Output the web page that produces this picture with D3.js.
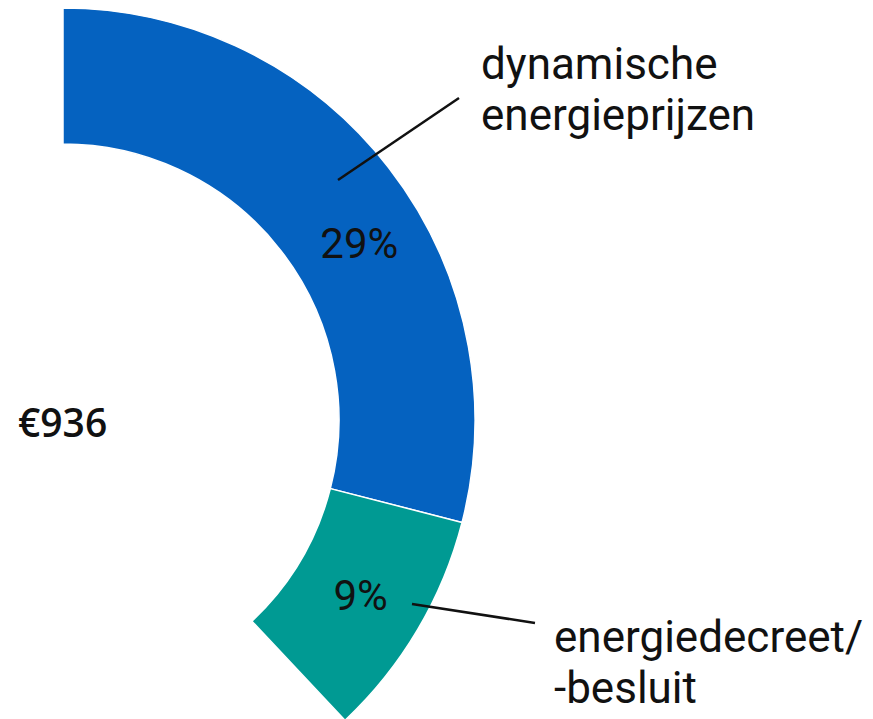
<!DOCTYPE html>
<html>
<head>
<meta charset="utf-8">
<script src="https://cdn.jsdelivr.net/npm/d3@7"></script>
<style>
  body { margin: 0; background: #fff; }
  svg { display: block; }
</style>
</head>
<body>
<svg></svg>
<script>
// data
var categories = ["dynamische energieprijzen", "energiedecreet/-besluit", "overig"];
var shares = [29, 9, 62];
var colors = ["#0562c0", "#009a93", "#ffffff"];
var labelLines = [["dynamische", "energieprijzen"], ["energiedecreet/", "-besluit"]];
var totalLabel = "€936";

var svgWidth = 873;
var svgHeight = 719;
var cx = 63, cy = 420;
var outerR = 412, innerR = 276;

var svg = d3.select("svg")
  .attr("width", svgWidth)
  .attr("height", svgHeight);

var pie = d3.pie().sort(null).value(function(d) { return d; });
var arc = d3.arc().innerRadius(innerR).outerRadius(outerR);
var slices = pie(shares);

var g = svg.append("g").attr("transform", "translate(" + cx + "," + cy + ")");

g.selectAll("path")
  .data(slices.slice(0, 2))
  .enter()
  .append("path")
  .attr("d", arc)
  .attr("fill", function(d, i) { return colors[i]; })
  .attr("stroke", "#fff")
  .attr("stroke-width", 1.5);

// percent labels, placed along the ring
function polar(angleDeg, r) {
  var a = angleDeg * Math.PI / 180;
  return [r * Math.sin(a), -r * Math.cos(a)];
}
var pctAngles = [59.2, 120.4];
g.selectAll("text.pct")
  .data(slices.slice(0, 2))
  .enter()
  .append("text")
  .attr("class", "pct")
  .attr("x", function(d, i) { return polar(pctAngles[i], 345)[0]; })
  .attr("y", function(d, i) { return polar(pctAngles[i], 345)[1] + 15; })
  .attr("text-anchor", "middle")
  .attr("font-family", "Roboto")
  .attr("font-size", 42)
  .attr("fill", "#111")
  .text(function(d) { return d.data + "%"; });

// leader lines
var leaders = [
  [[338, 180], [459, 98]],
  [[412, 604], [535, 623]]
];
svg.selectAll("line.leader")
  .data(leaders)
  .enter()
  .append("line")
  .attr("x1", function(d) { return d[0][0]; })
  .attr("y1", function(d) { return d[0][1]; })
  .attr("x2", function(d) { return d[1][0]; })
  .attr("y2", function(d) { return d[1][1]; })
  .attr("stroke", "#111")
  .attr("stroke-width", 2.5);

// category labels
var labelPos = [[481, 79], [554, 652]];
labelLines.forEach(function(lines, i) {
  var t = svg.append("text")
    .attr("x", labelPos[i][0])
    .attr("y", labelPos[i][1])
    .attr("font-family", "Roboto")
    .attr("font-size", 44)
    .attr("fill", "#111");
  lines.forEach(function(s, j) {
    t.append("tspan")
      .attr("x", labelPos[i][0])
      .attr("dy", j == 0 ? 0 : 51)
      .text(s);
  });
});

svg.append("text")
  .attr("x", 18)
  .attr("y", 437)
  .attr("font-family", "Open Sans")
  .attr("font-weight", 600)
  .attr("font-size", 39)
  .attr("fill", "#111")
  .text(totalLabel);
</script>
</body>
</html>
